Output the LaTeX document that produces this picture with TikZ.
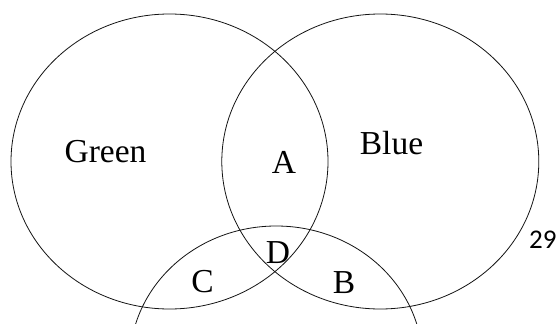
\documentclass[tikz,border=0pt]{standalone}
\usepackage{fontspec}
\setmainfont{Liberation Serif}
\newfontfamily\slidefont{Carlito}
\usepackage{tikz}
\usetikzlibrary{positioning}
\definecolor{setline}{RGB}{20, 20, 20}

\begin{document}
\begin{tikzpicture}[x=1pt, y=-1pt,
    setring/.style={draw=setline, line width=0.8pt},
    setname/.style={anchor=base, inner sep=0pt, font=\fontsize{33.5}{38}\selectfont},
    pagenum/.style={anchor=base west, inner sep=0pt, font=\slidefont\fontsize{27}{32}\selectfont}]
  \clip (0,0) rectangle (560,324);
  \fill[white] (0,0) rectangle (560,324);
  
  \coordinate (cg) at (169.5,161.5);
  \coordinate (cb) at (380.3,161.5);
  \coordinate (cr) at (276.2,362.2);
  
  \draw[setring] (cg) ellipse [x radius=158.5pt, y radius=147.5pt];
  \draw[setring] (cb) ellipse [x radius=158.5pt, y radius=147.5pt];
  \draw[setring] (cr) ellipse [x radius=146.4pt, y radius=136.2pt];
  
  \node[setname] (green) at (105.5,162.7) {Green};
  \node[setname] (blue) at (391.5,154.3) {Blue};
  \node[setname] (regA) at (284,173) {A};
  \node[setname] (regD) at (278,263) {D};
  \node[setname] (regC) at (202.5,292) {C};
  \node[setname] (regB) at (344,293) {B};
  
  \node[pagenum] (page) at (529,248) {29};
\end{tikzpicture}
\end{document}
